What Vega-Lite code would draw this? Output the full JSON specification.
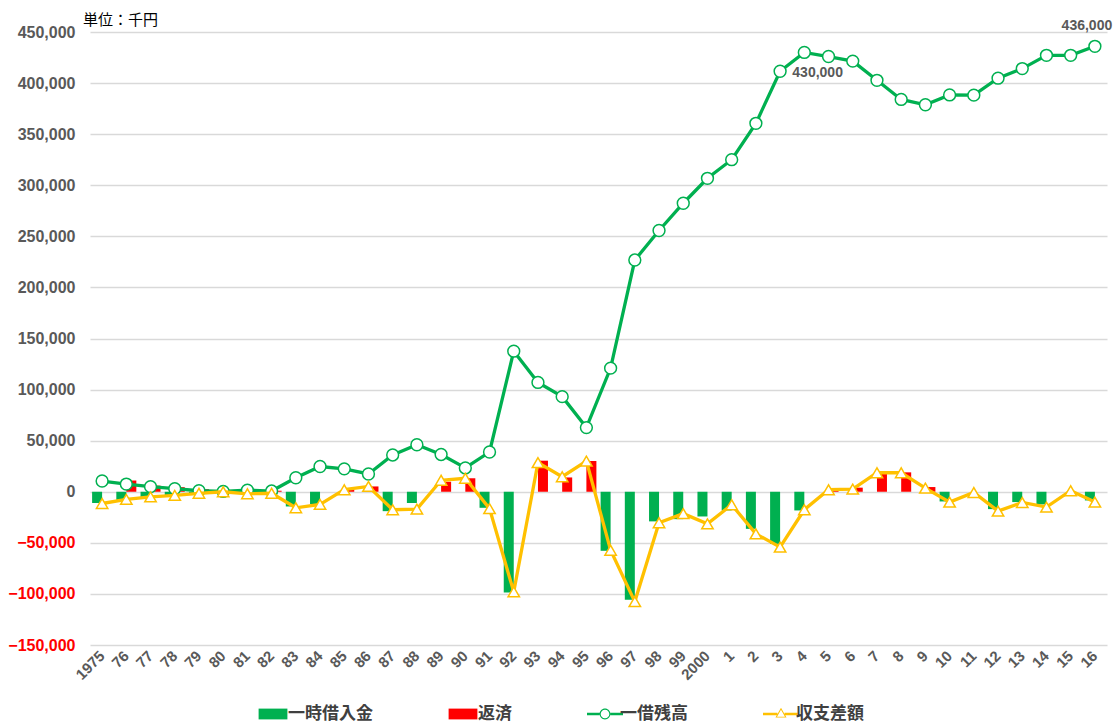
{
  "$schema": "https://vega.github.io/schema/vega-lite/v6.json",
  "width": 1017,
  "height": 613,
  "autosize": {"type": "none"},
  "padding": {"left": 90, "top": 32, "right": 12, "bottom": 79},
  "background": "white",
  "title": {
    "text": "単位：千円",
    "anchor": "start",
    "frame": "group",
    "offset": 6,
    "dx": -7,
    "dy": 15,
    "font": "Noto Sans CJK JP",
    "fontSize": 15,
    "fontWeight": "normal",
    "color": "#000000"
  },
  "data": {
    "values": [
      {"year": 1975, "一時借入金": -11000, "返済": 0, "一借残高": 10500, "収支差額": -11500},
      {"year": 1976, "一時借入金": -8000, "返済": 11000, "一借残高": 7500, "収支差額": -7500},
      {"year": 1977, "一時借入金": -5500, "返済": 6000, "一借残高": 5000, "収支差額": -5000},
      {"year": 1978, "一時借入金": -4000, "返済": 4500, "一借残高": 3000, "収支差額": -3500},
      {"year": 1979, "一時借入金": -1500, "返済": 2500, "一借残高": 1000, "収支差額": -1500},
      {"year": 1980, "一時借入金": -500, "返済": 1000, "一借残高": 300, "収支差額": 0},
      {"year": 1981, "一時借入金": -1500, "返済": 0, "一借残高": 1500, "収支差額": -2000},
      {"year": 1982, "一時借入金": 0, "返済": 1000, "一借残高": 700, "収支差額": -1500},
      {"year": 1983, "一時借入金": -14400, "返済": 0, "一借残高": 13700, "収支差額": -15700},
      {"year": 1984, "一時借入金": -12000, "返済": 0, "一借残高": 24700, "収支差額": -12400},
      {"year": 1985, "一時借入金": 0, "返済": 2000, "一借残高": 22400, "収支差額": 2000},
      {"year": 1986, "一時借入金": 0, "返済": 5200, "一借残高": 17400, "収支差額": 5200},
      {"year": 1987, "一時借入金": -19000, "返済": 0, "一借残高": 36000, "収支差額": -17600},
      {"year": 1988, "一時借入金": -11000, "返済": 0, "一借残高": 46000, "収支差額": -17000},
      {"year": 1989, "一時借入金": 0, "返済": 9800, "一借残高": 36500, "収支差額": 11200},
      {"year": 1990, "一時借入金": 0, "返済": 13200, "一借残高": 23300, "収支差額": 13200},
      {"year": 1991, "一時借入金": -15700, "返済": 0, "一借残高": 38900, "収支差額": -16500},
      {"year": 1992, "一時借入金": -98700, "返済": 0, "一借残高": 137600, "収支差額": -98000},
      {"year": 1993, "一時借入金": 0, "返済": 30400, "一借残高": 107000, "収支差額": 28500},
      {"year": 1994, "一時借入金": 0, "返済": 14000, "一借残高": 93100, "収支差額": 14700},
      {"year": 1995, "一時借入金": 0, "返済": 30100, "一借残高": 62800, "収支差額": 30000},
      {"year": 1996, "一時借入金": -57800, "返済": 0, "一借残高": 121000, "収支差額": -57200},
      {"year": 1997, "一時借入金": -105600, "返済": 0, "一借残高": 226800, "収支差額": -107500},
      {"year": 1998, "一時借入金": -29000, "返済": 0, "一借残高": 255700, "収支差額": -30400},
      {"year": 1999, "一時借入金": -26800, "返済": 0, "一借残高": 282400, "収支差額": -21400},
      {"year": 2000, "一時借入金": -24200, "返済": 0, "一借残高": 306800, "収支差額": -31400},
      {"year": 2001, "一時借入金": -18300, "返済": 0, "一借残高": 325000, "収支差額": -12700},
      {"year": 2002, "一時借入金": -36300, "返済": 0, "一借残高": 360600, "収支差額": -41200},
      {"year": 2003, "一時借入金": -51000, "返済": 0, "一借残高": 411600, "収支差額": -54200},
      {"year": 2004, "一時借入金": -18300, "返済": 0, "一借残高": 430000, "収支差額": -17600},
      {"year": 2005, "一時借入金": 0, "返済": 3500, "一借残高": 426000, "収支差額": 2000},
      {"year": 2006, "一時借入金": 0, "返済": 4000, "一借残高": 421500, "収支差額": 2600},
      {"year": 2007, "一時借入金": 0, "返済": 17600, "一借残高": 402700, "収支差額": 18600},
      {"year": 2008, "一時借入金": 0, "返済": 19000, "一借残高": 384000, "収支差額": 18600},
      {"year": 2009, "一時借入金": 0, "返済": 4600, "一借残高": 378800, "収支差額": 3600},
      {"year": 2010, "一時借入金": -9500, "返済": 0, "一借残高": 388400, "収支差額": -10100},
      {"year": 2011, "一時借入金": 0, "返済": 0, "一借残高": 388200, "収支差額": -700},
      {"year": 2012, "一時借入金": -17000, "返済": 0, "一借残高": 404800, "収支差額": -19000},
      {"year": 2013, "一時借入金": -10100, "返済": 0, "一借残高": 414200, "収支差額": -10500},
      {"year": 2014, "一時借入金": -12400, "返済": 0, "一借残高": 427200, "収支差額": -15000},
      {"year": 2015, "一時借入金": 0, "返済": 0, "一借残高": 427200, "収支差額": 1000},
      {"year": 2016, "一時借入金": -8500, "返済": 0, "一借残高": 436000, "収支差額": -10100}
    ]
  },
  "encoding": {
    "x": {
      "field": "year",
      "type": "ordinal",
      "scale": {"paddingInner": 0, "paddingOuter": 0},
      "axis": {
        "title": null,
        "labelAngle": -45,
        "labelAlign": "right",
        "labelBaseline": "middle",
        "labelExpr": "datum.value == 1975 || datum.value == 2000 ? '' + datum.value : '' + (datum.value % 100)",
        "labelFont": "Liberation Sans",
        "labelFontSize": 15,
        "labelFontWeight": "bold",
        "labelColor": "#595959",
        "labelPadding": 8,
        "domain": false,
        "ticks": false,
        "grid": false
      }
    }
  },
  "layer": [
    {
      "transform": [{"fold": ["一時借入金", "返済"], "as": ["series", "value"]}],
      "mark": {"type": "bar"},
      "encoding": {
        "xOffset": {"field": "series", "type": "nominal", "sort": ["一時借入金", "返済"], "scale": {"paddingInner": 0, "paddingOuter": 0.21}},
        "y": {
          "field": "value",
          "type": "quantitative",
          "scale": {"domain": [-150000, 450000], "nice": false},
          "axis": {
            "title": null,
            "values": [-150000, -100000, -50000, 0, 50000, 100000, 150000, 200000, 250000, 300000, 350000, 400000, 450000],
            "format": ",.0f",
            "labelFont": "Liberation Sans",
            "labelFontSize": 16,
            "labelFontWeight": "bold",
            "labelColor": {"condition": {"test": "datum.value < 0", "value": "#ff0000"}, "value": "#595959"},
            "labelPadding": 15,
            "domain": false,
            "ticks": false,
            "gridColor": "#d9d9d9",
            "gridWidth": 1.3
          }
        },
        "color": {
          "field": "series",
          "type": "nominal",
          "scale": {
            "domain": ["一時借入金", "返済", "一借残高", "収支差額"],
            "range": ["#00b050", "#ff0000", "#00b050", "#ffc000"]
          },
          "legend": {
            "title": null,
            "orient": "none",
            "direction": "horizontal",
            "legendX": 171,
            "legendY": 670,
            "columnPadding": 75,
            "symbolSize": 576,
            "symbolStrokeWidth": 0,
            "labelOffset": 3,
            "labelFont": "Noto Sans CJK JP",
            "labelFontSize": 17,
            "labelFontWeight": "bold",
            "labelColor": "#404040",
            "labelLimit": 200,
            "encode": {
              "symbols": {
                "update": {
                  "shape": {"signal": "datum.value == '一借残高' ? 'M-1.5,-0.1H-0.45V0.1H-1.5Z M0.45,-0.1H1.5V0.1H0.45Z M-0.45,0A0.45,0.45,0,1,0,0.45,0A0.45,0.45,0,1,0,-0.45,0Z M-0.36,0A0.36,0.36,0,1,1,0.36,0A0.36,0.36,0,1,1,-0.36,0Z' : datum.value == '収支差額' ? 'M-1.5,-0.1H-0.3V0.1H-1.5Z M0.3,-0.1H1.5V0.1H0.3Z M0,-0.52L0.46,0.3L-0.46,0.3Z M0,-0.36L-0.33,0.22L0.33,0.22Z' : 'M-1.2,-0.45H1.2V0.45H-1.2Z'"},
                  "fill": {"signal": "datum.value == '収支差額' ? '#ffc000' : datum.value == '返済' ? '#ff0000' : '#00b050'"},
                  "strokeWidth": {"value": 0},
                  "opacity": {"value": 1},
                  "fillOpacity": {"value": 1}
                }
              }
            }
          }
        }
      }
    },
    {
      "transform": [{"fold": ["一借残高"], "as": ["series", "value"]}],
      "mark": {"type": "line", "strokeWidth": 3.3},
      "encoding": {
        "y": {"field": "value", "type": "quantitative"},
        "color": {"field": "series", "type": "nominal"}
      }
    },
    {
      "transform": [{"fold": ["一借残高"], "as": ["series", "value"]}],
      "mark": {"type": "point", "shape": "circle", "filled": false, "fill": "#ffffff", "fillOpacity": 1, "opacity": 1, "size": 140, "strokeWidth": 1.5},
      "encoding": {
        "y": {"field": "value", "type": "quantitative"},
        "color": {"field": "series", "type": "nominal"}
      }
    },
    {
      "transform": [{"fold": ["収支差額"], "as": ["series", "value"]}],
      "mark": {"type": "line", "strokeWidth": 3.3},
      "encoding": {
        "y": {"field": "value", "type": "quantitative"},
        "color": {"field": "series", "type": "nominal"}
      }
    },
    {
      "transform": [{"fold": ["収支差額"], "as": ["series", "value"]}],
      "mark": {"type": "point", "shape": "triangle-up", "filled": false, "fill": "#ffffff", "fillOpacity": 1, "opacity": 1, "size": 130, "strokeWidth": 1.5},
      "encoding": {
        "y": {"field": "value", "type": "quantitative"},
        "color": {"field": "series", "type": "nominal"}
      }
    },
    {
      "transform": [{"filter": "datum.year == 2004"}],
      "mark": {"type": "text", "align": "left", "baseline": "middle", "dx": -12, "dy": 21, "font": "Liberation Sans", "fontSize": 14, "fontWeight": "bold", "color": "#595959"},
      "encoding": {
        "y": {"field": "一借残高", "type": "quantitative"},
        "text": {"field": "一借残高", "type": "quantitative", "format": ","}
      }
    },
    {
      "transform": [{"filter": "datum.year == 2016"}],
      "mark": {"type": "text", "align": "center", "baseline": "middle", "dx": -8, "dy": -20, "font": "Liberation Sans", "fontSize": 14, "fontWeight": "bold", "color": "#595959"},
      "encoding": {
        "y": {"field": "一借残高", "type": "quantitative"},
        "text": {"field": "一借残高", "type": "quantitative", "format": ","}
      }
    }
  ],
  "config": {
    "view": {"stroke": null}
  }
}
